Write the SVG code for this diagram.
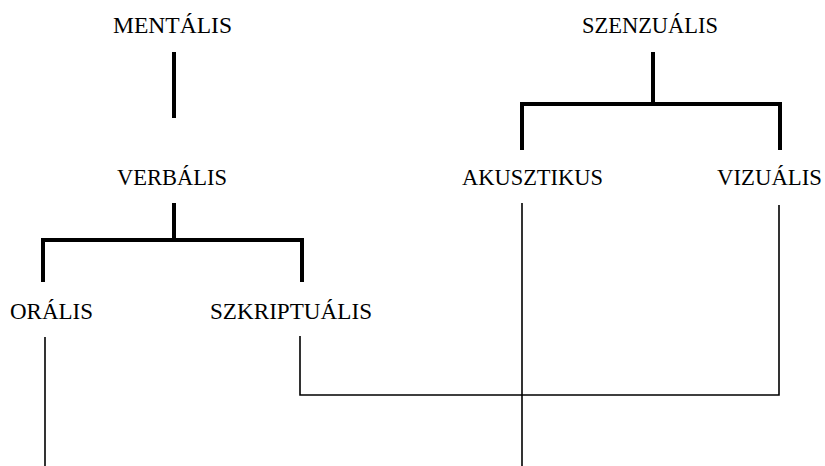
<svg xmlns="http://www.w3.org/2000/svg" width="825" height="466" viewBox="0 0 825 466">
<style>
text{font-family:"Liberation Serif","Times New Roman",serif;font-size:23px;fill:#000}
.thick{stroke:#000;stroke-width:4;fill:none;stroke-linecap:butt;stroke-linejoin:miter}
.thin{stroke:#000;stroke-width:1.6;fill:none;stroke-linejoin:miter}
</style>
<rect width="825" height="466" fill="#fff"/>
<g id="mentalis"><text x="113" y="33" textLength="119" lengthAdjust="spacingAndGlyphs">MENTÁLIS</text></g>
<g id="verbalis"><text x="117" y="185" textLength="110" lengthAdjust="spacingAndGlyphs">VERBÁLIS</text></g>
<g id="oralis"><text x="10" y="319" textLength="83" lengthAdjust="spacingAndGlyphs">ORÁLIS</text></g>
<g id="szkriptualis"><text x="210" y="319" textLength="162" lengthAdjust="spacingAndGlyphs">SZKRIPTUÁLIS</text></g>
<g id="szenzualis"><text x="582" y="33" textLength="136" lengthAdjust="spacingAndGlyphs">SZENZUÁLIS</text></g>
<g id="akusztikus"><text x="462" y="185" textLength="141" lengthAdjust="spacingAndGlyphs">AKUSZTIKUS</text></g>
<g id="vizualis"><text x="717" y="185" textLength="105" lengthAdjust="spacingAndGlyphs">VIZUÁLIS</text></g>
<g id="connectors">
<line class="thick" x1="174" y1="52" x2="174" y2="118"/>
<line class="thick" x1="174" y1="203" x2="174" y2="240"/>
<polyline class="thick" points="43,282 43,240 302,240 302,282"/>
<line class="thick" x1="653" y1="52" x2="653" y2="104"/>
<polyline class="thick" points="522,150 522,104 780,104 780,150"/>
<line class="thin" x1="45" y1="337" x2="45" y2="466"/>
<polyline class="thin" points="300,336 300,395 779,395 779,205"/>
<line class="thin" x1="522" y1="203" x2="522" y2="466"/>
</g>
</svg>
